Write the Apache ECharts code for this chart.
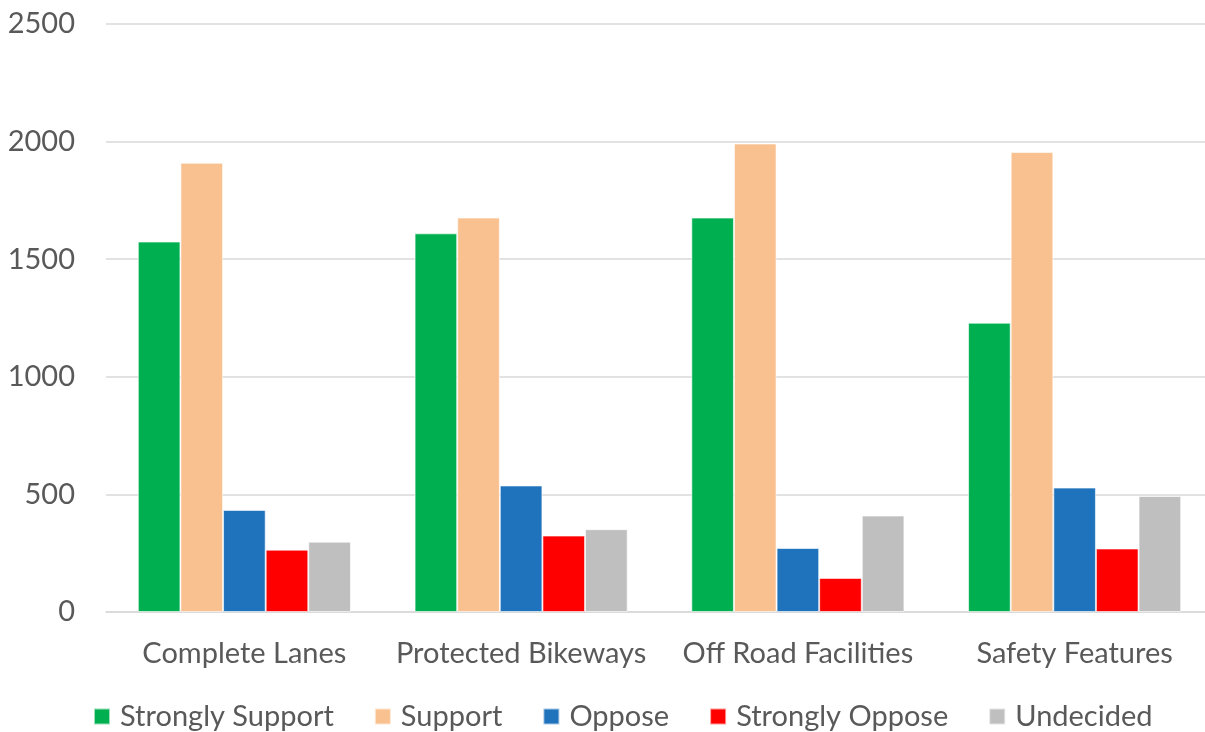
<!DOCTYPE html>
<html>
<head>
<meta charset="utf-8">
<script src="https://cdn.jsdelivr.net/npm/echarts@6/dist/echarts.min.js"></script>
<style>
  html, body { margin: 0; padding: 0; background: #ffffff; }
  #chart { width: 1205px; height: 732px; }
</style>
</head>
<body>
<div id="chart"></div>
<script>
// Survey responses per facility type
const categories = ['Complete Lanes', 'Protected Bikeways', 'Off Road Facilities', 'Safety Features'];
const seriesNames = ['Strongly Support', 'Support', 'Oppose', 'Strongly Oppose', 'Undecided'];
const stronglySupport = [1575, 1610, 1677, 1230];
const support = [1910, 1677, 1992, 1956];
const oppose = [434, 538, 272, 529];
const stronglyOppose = [265, 325, 145, 270];
const undecided = [299, 352, 410, 493];
const yTicks = [0, 500, 1000, 1500, 2000, 2500];

const colors = ['#00B050', '#F9C18F', '#1F72BC', '#FF0000', '#BFBFBF'];
const values = [stronglySupport, support, oppose, stronglyOppose, undecided];

const textColor = '#595959';
const fontFamily = 'Lato, "Noto Sans", sans-serif';

const chart = echarts.init(document.getElementById('chart'), null, { renderer: 'canvas' });

chart.setOption({
  backgroundColor: '#ffffff',
  animation: false,
  color: colors,
  grid: {
    left: 106, width: 1107, top: 24, height: 588,
    containLabel: false, outerBoundsMode: 'none'
  },
  legend: {
    top: 697,
    left: 88,
    itemWidth: 16,
    itemHeight: 16,
    itemGap: 40,
    icon: 'rect',
    data: seriesNames,
    textStyle: { color: textColor, fontSize: 29, fontFamily: fontFamily, padding: [0, 0, 0, 5] }
  },
  xAxis: {
    type: 'category',
    data: categories,
    axisLine: { show: true, lineStyle: { color: '#D9D9D9', width: 1.5 } },
    axisTick: { show: false },
    axisLabel: { color: textColor, fontSize: 29, fontFamily: fontFamily, margin: 27, interval: 0 }
  },
  yAxis: {
    type: 'value',
    min: yTicks[0],
    max: yTicks[yTicks.length - 1],
    interval: yTicks[1] - yTicks[0],
    axisLine: { show: false },
    axisTick: { show: false },
    splitLine: { lineStyle: { color: '#D9D9D9', width: 1.5 } },
    axisLabel: {
      color: textColor, fontSize: 29, fontFamily: fontFamily, margin: 31,
      formatter: (v) => String(v)
    }
  },
  series: seriesNames.map((name, i) => ({
    name: name,
    type: 'bar',
    data: values[i],
    barGap: '0%',
    barCategoryGap: '23%',
    itemStyle: { color: colors[i], borderColor: 'rgba(255,255,255,0.6)', borderWidth: 1 }
  }))
});
</script>
</body>
</html>
